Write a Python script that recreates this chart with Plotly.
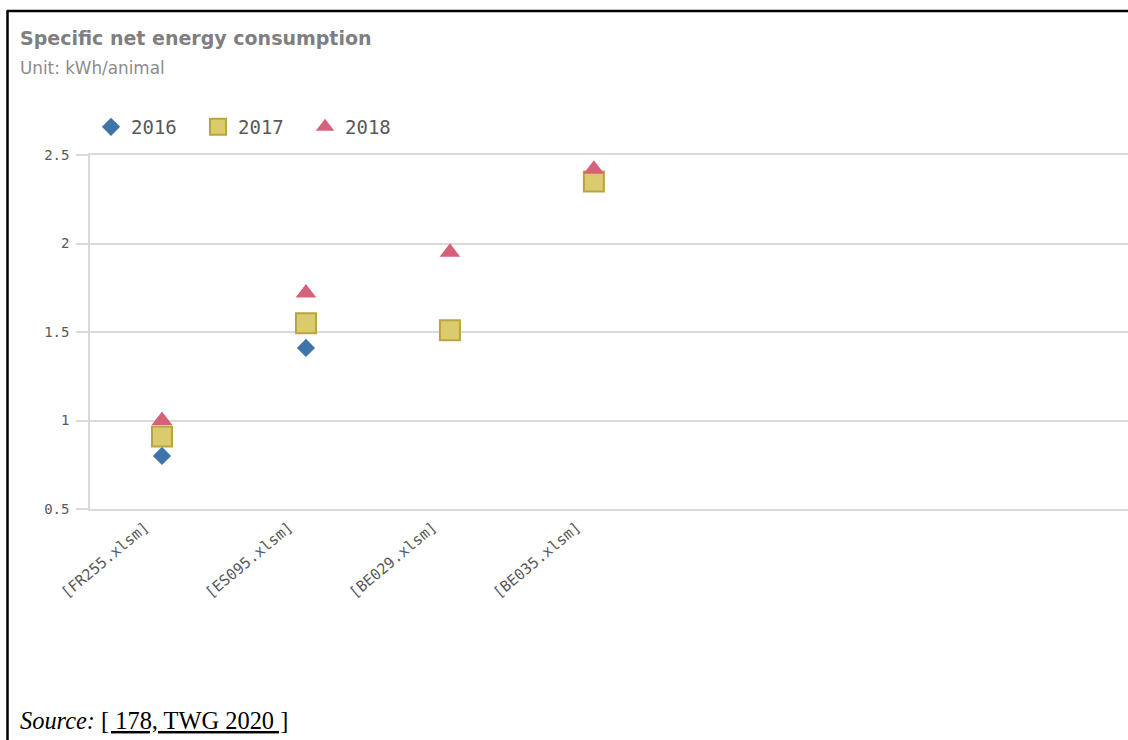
import plotly.graph_objects as go

# data
categories = ['[FR255.xlsm]', '[ES095.xlsm]', '[BE029.xlsm]', '[BE035.xlsm]']
values_2016 = [0.80, 1.41, None, None]
values_2017 = [0.91, 1.55, 1.51, 2.35]
values_2018 = [1.00, 1.72, 1.95, 2.42]
y_tickvals = [0.5, 1, 1.5, 2, 2.5]
y_ticktext = ['0.5', '1', '1.5', '2', '2.5']

W, H = 1128, 740
grid_color = '#d9d9d9'
text_grey = '#595959'
mono = 'DejaVu Sans Mono'

fig = go.Figure()
fig.add_trace(go.Scatter(x=categories, y=values_2016, name='2016', mode='markers',
                         marker=dict(symbol='diamond', size=14, color='#3f74ab')))
fig.add_trace(go.Scatter(x=categories, y=values_2017, name='2017', mode='markers',
                         marker=dict(symbol='square', size=20, color='#dccb6e',
                                     line=dict(color='#b8a540', width=2))))
fig.add_trace(go.Scatter(x=categories, y=values_2018, name='2018', mode='markers',
                         marker=dict(symbol='triangle-up', size=18, color='#d5627a')))

fig.update_layout(
    width=W, height=H, autosize=False,
    margin=dict(l=0, r=0, t=0, b=0, autoexpand=False),
    paper_bgcolor='white', plot_bgcolor='white',
    xaxis=dict(type='category', domain=[90 / W, 1.0], range=[-0.5, 6.71],
               showgrid=False, showline=True, mirror=True, linecolor=grid_color, linewidth=1.5,
               tickangle=-40, ticks='', ticklabelshift=-17, ticklabelstandoff=2,
               tickfont=dict(family=mono, size=15, color=text_grey), zeroline=False),
    yaxis=dict(domain=[231 / H, 585 / H], range=[0.5, 2.5],
               tickvals=y_tickvals, ticktext=y_ticktext,
               showgrid=True, gridcolor=grid_color, gridwidth=1.5,
               showline=True, linecolor=grid_color, linewidth=1.5,
               ticks='outside', ticklen=12, tickcolor=grid_color, tickwidth=1.5,
               ticklabelstandoff=4,
               tickfont=dict(family=mono, size=14, color=text_grey), zeroline=False),
    showlegend=True,
    legend=dict(orientation='h', x=91 / W, xanchor='left', y=1 - 127 / H, yanchor='middle',
                font=dict(family=mono, size=19, color=text_grey),
                entrywidth=62, entrywidthmode='pixels', bgcolor='rgba(0,0,0,0)'),
)

# titles
fig.add_annotation(text='<b>Specific net energy consumption</b>', xref='paper', yref='paper',
                   x=18 / W, y=1 - 38 / H, xanchor='left', yanchor='middle', showarrow=False,
                   font=dict(family='DejaVu Sans', size=19, color='#7f7f7f'))
fig.add_annotation(text='Unit: kWh/animal', xref='paper', yref='paper',
                   x=18 / W, y=1 - 68 / H, xanchor='left', yanchor='middle', showarrow=False,
                   font=dict(family='DejaVu Sans', size=16.8, color='#8c8c8c'))
fig.add_annotation(text='<i>Source:</i> <u>[ 178, TWG 2020 ]</u>', xref='paper', yref='paper',
                   x=18 / W, y=1 - 720 / H, xanchor='left', yanchor='middle', showarrow=False,
                   font=dict(family='Liberation Serif', size=24.4, color='black'))

# frame of the page
fig.add_shape(type='line', xref='paper', yref='paper', x0=7.5 / W, x1=7.5 / W, y0=0, y1=1 - 11 / H,
              line=dict(color='black', width=2.5))
fig.add_shape(type='line', xref='paper', yref='paper', x0=6.5 / W, x1=1, y0=1 - 11 / H, y1=1 - 11 / H,
              line=dict(color='black', width=2.5))

fig.write_html('out.html', config={'displayModeBar': False},
               post_script="document.body.style.margin='0px';")
